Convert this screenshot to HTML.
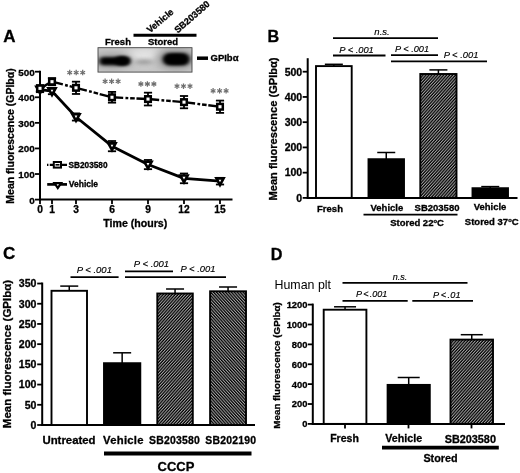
<!DOCTYPE html>
<html><head><meta charset="utf-8"><title>Figure</title>
<style>
html,body{margin:0;padding:0;background:#fff;}
body{width:520px;height:473px;overflow:hidden;}
svg{display:block;filter:grayscale(1) blur(0.3px);}
text{font-family:"Liberation Sans",sans-serif;fill:#000;}
.b{font-weight:bold;stroke:#000;stroke-width:0.3px;}
.i{font-style:italic;stroke:#000;stroke-width:0.15px;}
</style></head><body>
<svg width="520" height="473" viewBox="0 0 520 473">
<defs>
<pattern id="h1" width="2.2" height="2.2" patternUnits="userSpaceOnUse" patternTransform="rotate(-48)">
<rect width="2.2" height="2.2" fill="#000"/><rect y="0" width="2.2" height="1.0" fill="#a2a2a2"/>
</pattern>
<pattern id="h2" width="2.2" height="2.2" patternUnits="userSpaceOnUse" patternTransform="rotate(48)">
<rect width="2.2" height="2.2" fill="#000"/><rect y="0" width="2.2" height="1.0" fill="#a2a2a2"/>
</pattern>
<filter id="bl1" x="-30%" y="-60%" width="160%" height="220%"><feGaussianBlur stdDeviation="1.9 1.6"/></filter>
<filter id="bl2" x="-30%" y="-80%" width="160%" height="260%"><feGaussianBlur stdDeviation="3 2.2"/></filter>
<filter id="bl3" x="-50%" y="-100%" width="200%" height="300%"><feGaussianBlur stdDeviation="5 3"/></filter>
<clipPath id="blotclip"><rect x="98" y="47.4" width="94" height="24.6"/></clipPath>
</defs>
<rect width="520" height="473" fill="#fff"/>
<!-- Panel A -->
<text x="3.3" y="42.2" font-size="17" class="b" text-anchor="start" >A</text>
<g clip-path="url(#blotclip)"><rect x="98" y="47" width="94.5" height="25.5" fill="#c6c6c6"/>
<ellipse cx="145" cy="56" rx="18" ry="8" fill="#e2e2e2" filter="url(#bl3)"/>
<ellipse cx="176" cy="59" rx="20" ry="11" fill="#9a9a9a" filter="url(#bl3)"/>
<ellipse cx="112" cy="61" rx="20" ry="8" fill="#a0a0a0" filter="url(#bl3)"/>
<rect x="99.5" y="57" width="30.5" height="8.2" rx="4" fill="#000" filter="url(#bl1)"/>
<ellipse cx="122" cy="60.8" rx="7.5" ry="4.8" fill="#000" filter="url(#bl1)"/>
<ellipse cx="144" cy="62" rx="10" ry="2.2" fill="#8e8e8e" filter="url(#bl2)"/>
<rect x="163" y="53" width="26.5" height="12.4" rx="6" fill="#000" filter="url(#bl1)"/>
<ellipse cx="176" cy="59.2" rx="11" ry="4.6" fill="#000" filter="url(#bl1)"/>
</g>
<rect x="98" y="47.7" width="94" height="24.4" fill="none" stroke="#444" stroke-width="0.9"/>
<text x="118" y="44.5" font-size="9.5" class="b" text-anchor="middle" >Fresh</text>
<text x="163" y="44.8" font-size="9.5" class="b" text-anchor="middle" >Stored</text>
<line x1="133.5" y1="35.2" x2="196.5" y2="35.2" stroke="#000" stroke-width="3.0"/>
<text font-size="9.2" class="b" transform="translate(150,33.3) rotate(-40)">Vehicle</text>
<text font-size="9.2" class="b" transform="translate(177.7,33.5) rotate(-41)">SB203580</text>
<line x1="197" y1="58.2" x2="208" y2="58.2" stroke="#000" stroke-width="3.5"/>
<text x="210.5" y="60.9" font-size="9.5" class="b" text-anchor="start" >GPIb&#945;</text>
<line x1="40" y1="70.7" x2="40" y2="200.6" stroke="#000" stroke-width="2.0"/>
<line x1="39.0" y1="199.6" x2="232.5" y2="199.6" stroke="#000" stroke-width="2.0"/>
<line x1="35" y1="199.6" x2="40" y2="199.6" stroke="#000" stroke-width="1.8"/>
<text x="34.7" y="203.5" font-size="9.9" class="b" text-anchor="end" >0</text>
<line x1="35" y1="174.02" x2="40" y2="174.02" stroke="#000" stroke-width="1.8"/>
<text x="34.7" y="177.92000000000002" font-size="9.9" class="b" text-anchor="end" >100</text>
<line x1="35" y1="148.44" x2="40" y2="148.44" stroke="#000" stroke-width="1.8"/>
<text x="34.7" y="152.34" font-size="9.9" class="b" text-anchor="end" >200</text>
<line x1="35" y1="122.86" x2="40" y2="122.86" stroke="#000" stroke-width="1.8"/>
<text x="34.7" y="126.76" font-size="9.9" class="b" text-anchor="end" >300</text>
<line x1="35" y1="97.28" x2="40" y2="97.28" stroke="#000" stroke-width="1.8"/>
<text x="34.7" y="101.18" font-size="9.9" class="b" text-anchor="end" >400</text>
<line x1="35" y1="71.7" x2="40" y2="71.7" stroke="#000" stroke-width="1.8"/>
<text x="34.7" y="75.60000000000001" font-size="9.9" class="b" text-anchor="end" >500</text>
<line x1="40" y1="199.6" x2="40" y2="204.1" stroke="#000" stroke-width="1.8"/>
<text x="40" y="212.5" font-size="10.2" class="b" text-anchor="middle" >0</text>
<line x1="52" y1="199.6" x2="52" y2="204.1" stroke="#000" stroke-width="1.8"/>
<text x="52" y="212.5" font-size="10.2" class="b" text-anchor="middle" >1</text>
<line x1="76" y1="199.6" x2="76" y2="204.1" stroke="#000" stroke-width="1.8"/>
<text x="76" y="212.5" font-size="10.2" class="b" text-anchor="middle" >3</text>
<line x1="112" y1="199.6" x2="112" y2="204.1" stroke="#000" stroke-width="1.8"/>
<text x="112" y="212.5" font-size="10.2" class="b" text-anchor="middle" >6</text>
<line x1="148" y1="199.6" x2="148" y2="204.1" stroke="#000" stroke-width="1.8"/>
<text x="148" y="212.5" font-size="10.2" class="b" text-anchor="middle" >9</text>
<line x1="184" y1="199.6" x2="184" y2="204.1" stroke="#000" stroke-width="1.8"/>
<text x="184" y="212.5" font-size="10.2" class="b" text-anchor="middle" >12</text>
<line x1="220" y1="199.6" x2="220" y2="204.1" stroke="#000" stroke-width="1.8"/>
<text x="220" y="212.5" font-size="10.2" class="b" text-anchor="middle" >15</text>
<text x="135.3" y="227.4" font-size="10.6" class="b" text-anchor="middle" >Time (hours)</text>
<text font-size="10.5" class="b" text-anchor="middle" transform="translate(14.1,136) rotate(-90)">Mean fluorescence (GPIb&#945;)</text>
<polyline points="40,89.61 52,91.14 76,116.98 112,146.14 148,164.56 184,178.37 220,181.18" fill="none" stroke="#000" stroke-width="2.8" stroke-linejoin="round"/>
<line x1="40" y1="88.33" x2="52" y2="81.68" stroke="#000" stroke-width="2.4" stroke-dasharray="11.2 2.3 2.8 1.9 4.6 1.7"/>
<line x1="52" y1="81.68" x2="76" y2="87.82" stroke="#000" stroke-width="2.4" stroke-dasharray="11.2 2.3 2.8 1.9 4.6 1.7"/>
<line x1="76" y1="87.82" x2="112" y2="97.28" stroke="#000" stroke-width="2.4" stroke-dasharray="11.2 2.3 2.8 1.9 4.6 1.7"/>
<line x1="112" y1="97.28" x2="148" y2="99.07" stroke="#000" stroke-width="2.4" stroke-dasharray="11.2 2.3 2.8 1.9 4.6 1.7"/>
<line x1="148" y1="99.07" x2="184" y2="102.14" stroke="#000" stroke-width="2.4" stroke-dasharray="11.2 2.3 2.8 1.9 4.6 1.7"/>
<line x1="184" y1="102.14" x2="220" y2="106.74" stroke="#000" stroke-width="2.4" stroke-dasharray="11.2 2.3 2.8 1.9 4.6 1.7"/>
<line x1="40" y1="87.05199999999999" x2="40" y2="92.168" stroke="#000" stroke-width="1.8"/>
<line x1="35.9" y1="87.05199999999999" x2="44.1" y2="87.05199999999999" stroke="#000" stroke-width="1.8"/>
<line x1="35.9" y1="92.168" x2="44.1" y2="92.168" stroke="#000" stroke-width="1.8"/>
<path d="M36.4,86.81 L43.6,86.81 L40,93.41 Z" fill="#fff" stroke="#000" stroke-width="2.6" stroke-linejoin="miter"/>
<line x1="52" y1="88.0704" x2="52" y2="94.2096" stroke="#000" stroke-width="1.8"/>
<line x1="47.9" y1="88.0704" x2="56.1" y2="88.0704" stroke="#000" stroke-width="1.8"/>
<line x1="47.9" y1="94.2096" x2="56.1" y2="94.2096" stroke="#000" stroke-width="1.8"/>
<path d="M48.4,88.34 L55.6,88.34 L52,94.94 Z" fill="#fff" stroke="#000" stroke-width="2.6" stroke-linejoin="miter"/>
<line x1="76" y1="113.39880000000001" x2="76" y2="120.5612" stroke="#000" stroke-width="1.8"/>
<line x1="71.9" y1="113.39880000000001" x2="80.1" y2="113.39880000000001" stroke="#000" stroke-width="1.8"/>
<line x1="71.9" y1="120.5612" x2="80.1" y2="120.5612" stroke="#000" stroke-width="1.8"/>
<path d="M72.4,114.18 L79.6,114.18 L76,120.78 Z" fill="#fff" stroke="#000" stroke-width="2.6" stroke-linejoin="miter"/>
<line x1="112" y1="141.024" x2="112" y2="151.25599999999997" stroke="#000" stroke-width="1.8"/>
<line x1="107.9" y1="141.024" x2="116.1" y2="141.024" stroke="#000" stroke-width="1.8"/>
<line x1="107.9" y1="151.25599999999997" x2="116.1" y2="151.25599999999997" stroke="#000" stroke-width="1.8"/>
<path d="M108.4,143.33999999999997 L115.6,143.33999999999997 L112,149.94 Z" fill="#fff" stroke="#000" stroke-width="2.6" stroke-linejoin="miter"/>
<line x1="148" y1="159.9556" x2="148" y2="169.1644" stroke="#000" stroke-width="1.8"/>
<line x1="143.9" y1="159.9556" x2="152.1" y2="159.9556" stroke="#000" stroke-width="1.8"/>
<line x1="143.9" y1="169.1644" x2="152.1" y2="169.1644" stroke="#000" stroke-width="1.8"/>
<path d="M144.4,161.76 L151.6,161.76 L148,168.36 Z" fill="#fff" stroke="#000" stroke-width="2.6" stroke-linejoin="miter"/>
<line x1="184" y1="173.5098" x2="184" y2="183.2302" stroke="#000" stroke-width="1.8"/>
<line x1="179.9" y1="173.5098" x2="188.1" y2="173.5098" stroke="#000" stroke-width="1.8"/>
<line x1="179.9" y1="183.2302" x2="188.1" y2="183.2302" stroke="#000" stroke-width="1.8"/>
<path d="M180.4,175.57 L187.6,175.57 L184,182.17000000000002 Z" fill="#fff" stroke="#000" stroke-width="2.6" stroke-linejoin="miter"/>
<line x1="220" y1="177.8546" x2="220" y2="184.5054" stroke="#000" stroke-width="1.8"/>
<line x1="215.9" y1="177.8546" x2="224.1" y2="177.8546" stroke="#000" stroke-width="1.8"/>
<line x1="215.9" y1="184.5054" x2="224.1" y2="184.5054" stroke="#000" stroke-width="1.8"/>
<path d="M216.4,178.38 L223.6,178.38 L220,184.98000000000002 Z" fill="#fff" stroke="#000" stroke-width="2.6" stroke-linejoin="miter"/>
<line x1="40" y1="85.2604" x2="40" y2="91.39959999999999" stroke="#000" stroke-width="1.8"/>
<line x1="35.9" y1="85.2604" x2="44.1" y2="85.2604" stroke="#000" stroke-width="1.8"/>
<line x1="35.9" y1="91.39959999999999" x2="44.1" y2="91.39959999999999" stroke="#000" stroke-width="1.8"/>
<rect x="37.2" y="85.53" width="5.6" height="5.6" fill="#fff" stroke="#000" stroke-width="2.5"/>
<line x1="52" y1="78.09880000000001" x2="52" y2="85.2612" stroke="#000" stroke-width="1.8"/>
<line x1="47.9" y1="78.09880000000001" x2="56.1" y2="78.09880000000001" stroke="#000" stroke-width="1.8"/>
<line x1="47.9" y1="85.2612" x2="56.1" y2="85.2612" stroke="#000" stroke-width="1.8"/>
<rect x="49.2" y="78.88000000000001" width="5.6" height="5.6" fill="#fff" stroke="#000" stroke-width="2.5"/>
<line x1="76" y1="81.68079999999999" x2="76" y2="93.9592" stroke="#000" stroke-width="1.8"/>
<line x1="71.9" y1="81.68079999999999" x2="80.1" y2="81.68079999999999" stroke="#000" stroke-width="1.8"/>
<line x1="71.9" y1="93.9592" x2="80.1" y2="93.9592" stroke="#000" stroke-width="1.8"/>
<rect x="73.2" y="85.02" width="5.6" height="5.6" fill="#fff" stroke="#000" stroke-width="2.5"/>
<line x1="112" y1="91.90820000000001" x2="112" y2="102.6518" stroke="#000" stroke-width="1.8"/>
<line x1="107.9" y1="91.90820000000001" x2="116.1" y2="91.90820000000001" stroke="#000" stroke-width="1.8"/>
<line x1="107.9" y1="102.6518" x2="116.1" y2="102.6518" stroke="#000" stroke-width="1.8"/>
<rect x="109.2" y="94.48" width="5.6" height="5.6" fill="#fff" stroke="#000" stroke-width="2.5"/>
<line x1="148" y1="92.675" x2="148" y2="105.46499999999999" stroke="#000" stroke-width="1.8"/>
<line x1="143.9" y1="92.675" x2="152.1" y2="92.675" stroke="#000" stroke-width="1.8"/>
<line x1="143.9" y1="105.46499999999999" x2="152.1" y2="105.46499999999999" stroke="#000" stroke-width="1.8"/>
<rect x="145.2" y="96.27" width="5.6" height="5.6" fill="#fff" stroke="#000" stroke-width="2.5"/>
<line x1="184" y1="96.0008" x2="184" y2="108.2792" stroke="#000" stroke-width="1.8"/>
<line x1="179.9" y1="96.0008" x2="188.1" y2="96.0008" stroke="#000" stroke-width="1.8"/>
<line x1="179.9" y1="108.2792" x2="188.1" y2="108.2792" stroke="#000" stroke-width="1.8"/>
<rect x="181.2" y="99.34" width="5.6" height="5.6" fill="#fff" stroke="#000" stroke-width="2.5"/>
<line x1="220" y1="100.60079999999999" x2="220" y2="112.8792" stroke="#000" stroke-width="1.8"/>
<line x1="215.9" y1="100.60079999999999" x2="224.1" y2="100.60079999999999" stroke="#000" stroke-width="1.8"/>
<line x1="215.9" y1="112.8792" x2="224.1" y2="112.8792" stroke="#000" stroke-width="1.8"/>
<rect x="217.2" y="103.94" width="5.6" height="5.6" fill="#fff" stroke="#000" stroke-width="2.5"/>
<line x1="69.70" y1="69.85" x2="69.70" y2="75.35" stroke="#6e6e6e" stroke-width="1.25"/>
<line x1="67.32" y1="71.22" x2="72.08" y2="73.97" stroke="#6e6e6e" stroke-width="1.25"/>
<line x1="72.08" y1="71.22" x2="67.32" y2="73.97" stroke="#6e6e6e" stroke-width="1.25"/>
<line x1="76.20" y1="69.85" x2="76.20" y2="75.35" stroke="#6e6e6e" stroke-width="1.25"/>
<line x1="73.82" y1="71.22" x2="78.58" y2="73.97" stroke="#6e6e6e" stroke-width="1.25"/>
<line x1="78.58" y1="71.22" x2="73.82" y2="73.97" stroke="#6e6e6e" stroke-width="1.25"/>
<line x1="82.70" y1="69.85" x2="82.70" y2="75.35" stroke="#6e6e6e" stroke-width="1.25"/>
<line x1="80.32" y1="71.22" x2="85.08" y2="73.97" stroke="#6e6e6e" stroke-width="1.25"/>
<line x1="85.08" y1="71.22" x2="80.32" y2="73.97" stroke="#6e6e6e" stroke-width="1.25"/>
<line x1="105.10" y1="78.55" x2="105.10" y2="84.05" stroke="#6e6e6e" stroke-width="1.25"/>
<line x1="102.72" y1="79.92" x2="107.48" y2="82.67" stroke="#6e6e6e" stroke-width="1.25"/>
<line x1="107.48" y1="79.92" x2="102.72" y2="82.67" stroke="#6e6e6e" stroke-width="1.25"/>
<line x1="111.60" y1="78.55" x2="111.60" y2="84.05" stroke="#6e6e6e" stroke-width="1.25"/>
<line x1="109.22" y1="79.92" x2="113.98" y2="82.67" stroke="#6e6e6e" stroke-width="1.25"/>
<line x1="113.98" y1="79.92" x2="109.22" y2="82.67" stroke="#6e6e6e" stroke-width="1.25"/>
<line x1="118.10" y1="78.55" x2="118.10" y2="84.05" stroke="#6e6e6e" stroke-width="1.25"/>
<line x1="115.72" y1="79.92" x2="120.48" y2="82.67" stroke="#6e6e6e" stroke-width="1.25"/>
<line x1="120.48" y1="79.92" x2="115.72" y2="82.67" stroke="#6e6e6e" stroke-width="1.25"/>
<line x1="140.90" y1="81.25" x2="140.90" y2="86.75" stroke="#6e6e6e" stroke-width="1.25"/>
<line x1="138.52" y1="82.62" x2="143.28" y2="85.38" stroke="#6e6e6e" stroke-width="1.25"/>
<line x1="143.28" y1="82.62" x2="138.52" y2="85.38" stroke="#6e6e6e" stroke-width="1.25"/>
<line x1="147.40" y1="81.25" x2="147.40" y2="86.75" stroke="#6e6e6e" stroke-width="1.25"/>
<line x1="145.02" y1="82.62" x2="149.78" y2="85.38" stroke="#6e6e6e" stroke-width="1.25"/>
<line x1="149.78" y1="82.62" x2="145.02" y2="85.38" stroke="#6e6e6e" stroke-width="1.25"/>
<line x1="153.90" y1="81.25" x2="153.90" y2="86.75" stroke="#6e6e6e" stroke-width="1.25"/>
<line x1="151.52" y1="82.62" x2="156.28" y2="85.38" stroke="#6e6e6e" stroke-width="1.25"/>
<line x1="156.28" y1="82.62" x2="151.52" y2="85.38" stroke="#6e6e6e" stroke-width="1.25"/>
<line x1="177.00" y1="83.45" x2="177.00" y2="88.95" stroke="#6e6e6e" stroke-width="1.25"/>
<line x1="174.62" y1="84.83" x2="179.38" y2="87.58" stroke="#6e6e6e" stroke-width="1.25"/>
<line x1="179.38" y1="84.83" x2="174.62" y2="87.58" stroke="#6e6e6e" stroke-width="1.25"/>
<line x1="183.50" y1="83.45" x2="183.50" y2="88.95" stroke="#6e6e6e" stroke-width="1.25"/>
<line x1="181.12" y1="84.83" x2="185.88" y2="87.58" stroke="#6e6e6e" stroke-width="1.25"/>
<line x1="185.88" y1="84.83" x2="181.12" y2="87.58" stroke="#6e6e6e" stroke-width="1.25"/>
<line x1="190.00" y1="83.45" x2="190.00" y2="88.95" stroke="#6e6e6e" stroke-width="1.25"/>
<line x1="187.62" y1="84.83" x2="192.38" y2="87.58" stroke="#6e6e6e" stroke-width="1.25"/>
<line x1="192.38" y1="84.83" x2="187.62" y2="87.58" stroke="#6e6e6e" stroke-width="1.25"/>
<line x1="213.10" y1="88.05" x2="213.10" y2="93.55" stroke="#6e6e6e" stroke-width="1.25"/>
<line x1="210.72" y1="89.42" x2="215.48" y2="92.17" stroke="#6e6e6e" stroke-width="1.25"/>
<line x1="215.48" y1="89.42" x2="210.72" y2="92.17" stroke="#6e6e6e" stroke-width="1.25"/>
<line x1="219.60" y1="88.05" x2="219.60" y2="93.55" stroke="#6e6e6e" stroke-width="1.25"/>
<line x1="217.22" y1="89.42" x2="221.98" y2="92.17" stroke="#6e6e6e" stroke-width="1.25"/>
<line x1="221.98" y1="89.42" x2="217.22" y2="92.17" stroke="#6e6e6e" stroke-width="1.25"/>
<line x1="226.10" y1="88.05" x2="226.10" y2="93.55" stroke="#6e6e6e" stroke-width="1.25"/>
<line x1="223.72" y1="89.42" x2="228.48" y2="92.17" stroke="#6e6e6e" stroke-width="1.25"/>
<line x1="228.48" y1="89.42" x2="223.72" y2="92.17" stroke="#6e6e6e" stroke-width="1.25"/>
<line x1="47" y1="164.8" x2="67" y2="164.8" stroke="#000" stroke-width="2.2" stroke-dasharray="1.4 1.4 30"/>
<rect x="53.8" y="162" width="7.2" height="5.6" fill="#fff" stroke="#000" stroke-width="2"/>
<line x1="55.5" y1="164.8" x2="59.5" y2="164.8" stroke="#000" stroke-width="1.6"/>
<text x="68.5" y="167.8" font-size="8.25" class="b" text-anchor="start" >SB203580</text>
<line x1="47.2" y1="184.4" x2="67" y2="184.4" stroke="#000" stroke-width="2.7"/>
<path d="M54.5,183.1 L61.1,183.1 L57.8,188.0 Z" fill="#fff" stroke="#000" stroke-width="2.2" stroke-linejoin="miter"/>
<text x="68.8" y="187.3" font-size="8.5" class="b" text-anchor="start" >Vehicle</text>
<!-- Panel B -->
<text x="267.6" y="42.1" font-size="16.2" class="b" text-anchor="start" >B</text>
<line x1="307.7" y1="58.2" x2="307.7" y2="198.9" stroke="#000" stroke-width="2.0"/>
<line x1="306.7" y1="197.9" x2="517.5" y2="197.9" stroke="#000" stroke-width="2.0"/>
<line x1="302.7" y1="197.9" x2="307.7" y2="197.9" stroke="#000" stroke-width="1.8"/>
<text x="302.2" y="201.70000000000002" font-size="10.5" class="b" text-anchor="end" >0</text>
<line x1="302.7" y1="172.66" x2="307.7" y2="172.66" stroke="#000" stroke-width="1.8"/>
<text x="302.2" y="176.46" font-size="10.5" class="b" text-anchor="end" >100</text>
<line x1="302.7" y1="147.42" x2="307.7" y2="147.42" stroke="#000" stroke-width="1.8"/>
<text x="302.2" y="151.22" font-size="10.5" class="b" text-anchor="end" >200</text>
<line x1="302.7" y1="122.18" x2="307.7" y2="122.18" stroke="#000" stroke-width="1.8"/>
<text x="302.2" y="125.98" font-size="10.5" class="b" text-anchor="end" >300</text>
<line x1="302.7" y1="96.94" x2="307.7" y2="96.94" stroke="#000" stroke-width="1.8"/>
<text x="302.2" y="100.74" font-size="10.5" class="b" text-anchor="end" >400</text>
<line x1="302.7" y1="71.7" x2="307.7" y2="71.7" stroke="#000" stroke-width="1.8"/>
<text x="302.2" y="75.5" font-size="10.5" class="b" text-anchor="end" >500</text>
<text font-size="11.1" class="b" text-anchor="middle" transform="translate(277.3,129) rotate(-90)">Mean fluorescence (GPIb&#945;)</text>
<line x1="333.85" y1="64.3" x2="333.85" y2="66.1" stroke="#000" stroke-width="1.5"/>
<line x1="324.85" y1="64.3" x2="342.85" y2="64.3" stroke="#000" stroke-width="1.5"/>
<rect x="316" y="66.1" width="35.69999999999999" height="131.8" fill="#fff" stroke="#000" stroke-width="1.9"/>
<line x1="386.25" y1="152.5" x2="386.25" y2="159.2" stroke="#000" stroke-width="1.5"/>
<line x1="377.25" y1="152.5" x2="395.25" y2="152.5" stroke="#000" stroke-width="1.5"/>
<rect x="368.5" y="159.2" width="35.5" height="38.70000000000002" fill="#000" stroke="#000" stroke-width="1.9"/>
<line x1="438.4" y1="69.9" x2="438.4" y2="74" stroke="#000" stroke-width="1.5"/>
<line x1="429.4" y1="69.9" x2="447.4" y2="69.9" stroke="#000" stroke-width="1.5"/>
<rect x="420.3" y="74" width="36.19999999999999" height="123.9" fill="url(#h1)" stroke="#000" stroke-width="1.9"/>
<line x1="490.25" y1="186.6" x2="490.25" y2="188.2" stroke="#000" stroke-width="1.5"/>
<line x1="481.25" y1="186.6" x2="499.25" y2="186.6" stroke="#000" stroke-width="1.5"/>
<rect x="472.5" y="188.2" width="35.5" height="9.700000000000017" fill="#000" stroke="#000" stroke-width="1.9"/>
<line x1="333" y1="38.2" x2="438" y2="38.2" stroke="#000" stroke-width="1.8"/>
<line x1="333" y1="55.5" x2="385.5" y2="55.5" stroke="#000" stroke-width="1.8"/>
<line x1="391" y1="55.2" x2="438" y2="55.2" stroke="#000" stroke-width="1.8"/>
<line x1="391" y1="61.3" x2="487" y2="61.3" stroke="#000" stroke-width="1.8"/>
<text x="382" y="34.8" font-size="9.5" class="i" text-anchor="middle" >n.s.</text>
<text x="356.5" y="52.5" font-size="9.3" class="i" text-anchor="middle" >P &lt; .001</text>
<text x="412" y="51.5" font-size="9.2" class="i" text-anchor="middle" >P &lt; .001</text>
<text x="461" y="57.8" font-size="9.35" class="i" text-anchor="middle" >P &lt; .001</text>
<text x="330" y="211.5" font-size="9.5" class="b" text-anchor="middle" >Fresh</text>
<text x="386.9" y="210.5" font-size="9.5" class="b" text-anchor="middle" >Vehicle</text>
<text x="437" y="210.6" font-size="9.5" class="b" text-anchor="middle" >SB203580</text>
<text x="490" y="210" font-size="9.5" class="b" text-anchor="middle" >Vehicle</text>
<line x1="363.5" y1="214.7" x2="457.5" y2="214.7" stroke="#000" stroke-width="1.8"/>
<text x="417" y="225.5" font-size="9.5" class="b" text-anchor="middle">Stored 22<tspan font-size="5.8" dy="-2.6">o</tspan><tspan dy="2.6">C</tspan></text>
<text x="491.7" y="224.7" font-size="9.5" class="b" text-anchor="middle">Stored 37<tspan font-size="5.8" dy="-2.6">o</tspan><tspan dy="2.6">C</tspan></text>
<!-- Panel C -->
<text x="3" y="259.2" font-size="17" class="b" text-anchor="start" >C</text>
<line x1="42.2" y1="282.53" x2="42.2" y2="426.0" stroke="#000" stroke-width="2.0"/>
<line x1="41.2" y1="425" x2="255" y2="425" stroke="#000" stroke-width="2.0"/>
<line x1="37.2" y1="425.0" x2="42.2" y2="425.0" stroke="#000" stroke-width="1.8"/>
<text x="36.5" y="428.9" font-size="10.6" class="b" text-anchor="end" >0</text>
<line x1="37.2" y1="404.79" x2="42.2" y2="404.79" stroke="#000" stroke-width="1.8"/>
<text x="36.5" y="408.69" font-size="10.6" class="b" text-anchor="end" >50</text>
<line x1="37.2" y1="384.58" x2="42.2" y2="384.58" stroke="#000" stroke-width="1.8"/>
<text x="36.5" y="388.47999999999996" font-size="10.6" class="b" text-anchor="end" >100</text>
<line x1="37.2" y1="364.37" x2="42.2" y2="364.37" stroke="#000" stroke-width="1.8"/>
<text x="36.5" y="368.27" font-size="10.6" class="b" text-anchor="end" >150</text>
<line x1="37.2" y1="344.16" x2="42.2" y2="344.16" stroke="#000" stroke-width="1.8"/>
<text x="36.5" y="348.06" font-size="10.6" class="b" text-anchor="end" >200</text>
<line x1="37.2" y1="323.95" x2="42.2" y2="323.95" stroke="#000" stroke-width="1.8"/>
<text x="36.5" y="327.84999999999997" font-size="10.6" class="b" text-anchor="end" >250</text>
<line x1="37.2" y1="303.74" x2="42.2" y2="303.74" stroke="#000" stroke-width="1.8"/>
<text x="36.5" y="307.64" font-size="10.6" class="b" text-anchor="end" >300</text>
<line x1="37.2" y1="283.53" x2="42.2" y2="283.53" stroke="#000" stroke-width="1.8"/>
<text x="36.5" y="287.42999999999995" font-size="10.6" class="b" text-anchor="end" >350</text>
<text font-size="11.5" class="b" text-anchor="middle" transform="translate(11,354) rotate(-90)">Mean fluorescence (GPIb&#945;)</text>
<line x1="69.25" y1="286.1" x2="69.25" y2="290.8" stroke="#000" stroke-width="1.5"/>
<line x1="60.25" y1="286.1" x2="78.25" y2="286.1" stroke="#000" stroke-width="1.5"/>
<rect x="51.5" y="290.8" width="35.5" height="134.2" fill="#fff" stroke="#000" stroke-width="1.9"/>
<line x1="122.15" y1="352.8" x2="122.15" y2="363.2" stroke="#000" stroke-width="1.5"/>
<line x1="113.15" y1="352.8" x2="131.15" y2="352.8" stroke="#000" stroke-width="1.5"/>
<rect x="104" y="363.2" width="36.30000000000001" height="61.80000000000001" fill="#000" stroke="#000" stroke-width="1.9"/>
<line x1="175.05" y1="289" x2="175.05" y2="293.5" stroke="#000" stroke-width="1.5"/>
<line x1="166.05" y1="289" x2="184.05" y2="289" stroke="#000" stroke-width="1.5"/>
<rect x="157.3" y="293.5" width="35.5" height="131.5" fill="url(#h1)" stroke="#000" stroke-width="1.9"/>
<line x1="228.05" y1="287" x2="228.05" y2="291.3" stroke="#000" stroke-width="1.5"/>
<line x1="219.05" y1="287" x2="237.05" y2="287" stroke="#000" stroke-width="1.5"/>
<rect x="210.1" y="291.3" width="35.900000000000006" height="133.7" fill="url(#h2)" stroke="#000" stroke-width="1.9"/>
<line x1="70.5" y1="277.1" x2="118.6" y2="277.1" stroke="#000" stroke-width="1.8"/>
<line x1="125" y1="271.4" x2="173" y2="271.4" stroke="#000" stroke-width="1.8"/>
<line x1="125" y1="277.2" x2="226" y2="277.2" stroke="#000" stroke-width="1.8"/>
<text x="94.3" y="273.3" font-size="9.5" class="i" text-anchor="middle" >P &lt; .001</text>
<text x="151.5" y="267.3" font-size="9.5" class="i" text-anchor="middle" >P &lt; .001</text>
<text x="198" y="271.8" font-size="9.4" class="i" text-anchor="middle" >P &lt; .001</text>
<text x="69" y="443.6" font-size="11.4" class="b" text-anchor="middle" >Untreated</text>
<text x="123.4" y="443.7" font-size="11.3" class="b" text-anchor="middle" letter-spacing="0.25">Vehicle</text>
<text x="174.6" y="444.1" font-size="10.4" class="b" text-anchor="middle" letter-spacing="0.25">SB203580</text>
<text x="230.8" y="444.1" font-size="10.4" class="b" text-anchor="middle" letter-spacing="0.25">SB202190</text>
<line x1="104" y1="453.5" x2="251.5" y2="453.5" stroke="#000" stroke-width="3.8"/>
<text x="176" y="471.2" font-size="13" class="b" text-anchor="middle" >CCCP</text>
<!-- Panel D -->
<text x="270.7" y="259.5" font-size="16.2" class="b" text-anchor="start" >D</text>
<text x="274.5" y="288.6" font-size="12.4" class="" text-anchor="start" >Human plt</text>
<line x1="312.8" y1="303.6" x2="312.8" y2="424.9" stroke="#000" stroke-width="2.0"/>
<line x1="311.8" y1="423.9" x2="505" y2="423.9" stroke="#000" stroke-width="2.0"/>
<line x1="307.8" y1="423.9" x2="312.8" y2="423.9" stroke="#000" stroke-width="1.8"/>
<text x="307.5" y="427.29999999999995" font-size="9.4" class="b" text-anchor="end" >0</text>
<line x1="307.8" y1="404.02" x2="312.8" y2="404.02" stroke="#000" stroke-width="1.8"/>
<text x="307.5" y="407.41999999999996" font-size="9.4" class="b" text-anchor="end" >200</text>
<line x1="307.8" y1="384.13" x2="312.8" y2="384.13" stroke="#000" stroke-width="1.8"/>
<text x="307.5" y="387.53" font-size="9.4" class="b" text-anchor="end" >400</text>
<line x1="307.8" y1="364.25" x2="312.8" y2="364.25" stroke="#000" stroke-width="1.8"/>
<text x="307.5" y="367.65" font-size="9.4" class="b" text-anchor="end" >600</text>
<line x1="307.8" y1="344.37" x2="312.8" y2="344.37" stroke="#000" stroke-width="1.8"/>
<text x="307.5" y="347.77" font-size="9.4" class="b" text-anchor="end" >800</text>
<line x1="307.8" y1="324.48" x2="312.8" y2="324.48" stroke="#000" stroke-width="1.8"/>
<text x="307.5" y="327.88" font-size="9.4" class="b" text-anchor="end" >1000</text>
<line x1="307.8" y1="304.6" x2="312.8" y2="304.6" stroke="#000" stroke-width="1.8"/>
<text x="307.5" y="308.0" font-size="9.4" class="b" text-anchor="end" >1200</text>
<text font-size="9.8" class="b" text-anchor="middle" transform="translate(279.8,365.5) rotate(-90)">Mean fluorescence (GPIb&#945;)</text>
<line x1="345" y1="423.9" x2="345" y2="428.4" stroke="#000" stroke-width="1.8"/>
<line x1="408.5" y1="423.9" x2="408.5" y2="428.4" stroke="#000" stroke-width="1.8"/>
<line x1="471.5" y1="423.9" x2="471.5" y2="428.4" stroke="#000" stroke-width="1.8"/>
<line x1="345.04999999999995" y1="306.8" x2="345.04999999999995" y2="309.7" stroke="#000" stroke-width="1.5"/>
<line x1="334.04999999999995" y1="306.8" x2="356.04999999999995" y2="306.8" stroke="#000" stroke-width="1.5"/>
<rect x="323.7" y="309.7" width="42.69999999999999" height="114.19999999999999" fill="#fff" stroke="#000" stroke-width="1.9"/>
<line x1="408.70000000000005" y1="377.5" x2="408.70000000000005" y2="384.9" stroke="#000" stroke-width="1.5"/>
<line x1="397.70000000000005" y1="377.5" x2="419.70000000000005" y2="377.5" stroke="#000" stroke-width="1.5"/>
<rect x="387.6" y="384.9" width="42.19999999999999" height="39.0" fill="#000" stroke="#000" stroke-width="1.9"/>
<line x1="471.75" y1="334.7" x2="471.75" y2="339.6" stroke="#000" stroke-width="1.5"/>
<line x1="460.75" y1="334.7" x2="482.75" y2="334.7" stroke="#000" stroke-width="1.5"/>
<rect x="450.5" y="339.6" width="42.5" height="84.29999999999995" fill="url(#h1)" stroke="#000" stroke-width="1.9"/>
<line x1="342.5" y1="282.8" x2="467.5" y2="282.8" stroke="#000" stroke-width="1.8"/>
<line x1="342.5" y1="300.8" x2="407.7" y2="300.8" stroke="#000" stroke-width="1.8"/>
<line x1="412.3" y1="300.8" x2="473" y2="300.8" stroke="#000" stroke-width="1.8"/>
<text x="399.9" y="280.4" font-size="9.0" class="i" text-anchor="middle" >n.s.</text>
<text x="371.6" y="297.4" font-size="9.0" class="i" text-anchor="middle" >P<tspan dx="1.3">&lt;</tspan><tspan dx="1.2">.001</tspan></text>
<text x="446.8" y="298" font-size="9.2" class="i" text-anchor="middle" letter-spacing="0.15">P<tspan dx="1.5">&lt;</tspan><tspan dx="1.3">.01</tspan></text>
<text x="344.5" y="441.7" font-size="10.5" class="b" text-anchor="middle" >Fresh</text>
<text x="403.7" y="441.5" font-size="10.7" class="b" text-anchor="middle" >Vehicle</text>
<text x="470.3" y="443.3" font-size="10.85" class="b" text-anchor="middle" >SB203580</text>
<line x1="382" y1="447.7" x2="498.8" y2="447.7" stroke="#000" stroke-width="3.8"/>
<text x="440.5" y="461.7" font-size="10.8" class="b" text-anchor="middle" >Stored</text>
</svg>
</body></html>
